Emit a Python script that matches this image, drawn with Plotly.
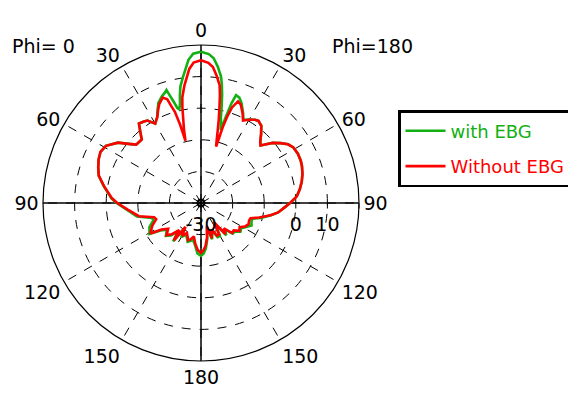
import plotly.graph_objects as go

# Angles measured clockwise from the top (0..180 = right half "Phi=180", 180..360 = left half "Phi=0")
theta_deg = [0, 3, 5, 7, 9, 10, 11, 12, 13, 14, 15, 16, 17, 18, 20, 22, 25, 27, 30, 33, 35, 38, 41, 44, 46, 48,
             50, 53, 56, 59, 63, 67, 70, 74, 78, 82, 86, 90, 93, 97, 100, 104, 107, 110, 114, 118, 122, 126,
             130, 134, 138, 142, 146, 150, 154, 158, 163, 166, 170, 174, 177, 180,
             184, 188, 192, 196, 199, 205, 210, 213, 216, 219, 223, 227, 232, 236, 239, 245, 250, 253, 258,
             265, 270, 273, 280, 285, 289, 293, 297, 301, 306, 310, 312, 317, 320, 322, 325, 327, 330, 333,
             335, 337, 340, 342, 343, 344, 345, 346, 347, 348, 349, 350, 352, 355, 357, 360]

without_ebg = [15.2, 14.4, 13.2, 10.6, 7.7, 4.5, 0.5, -3, -6.5, -9.5, -11.5, -5, -1, 1.8, 4.2, 3.6, 1.2, -0.7,
               0.4, 1.4, 1.7, 1.0, -1.0, -3.0, -3.8, -2.2, -0.4, 1.5, 3.2, 4.1, 4.4, 4.3, 4.0, 3.4, 2.6, 1.6,
               0.4, -1.8, -3.5, -5.4, -7.7, -11.0, -13.6, -13.8, -13.5, -14.2, -15.6, -15.0, -16.5, -16.3,
               -19.2, -17.5, -22.7, -18.5, -18.5, -21.0, -18.3, -22.4, -19.0, -16.3, -15.0, -14.2,
               -15.1, -17.0, -19.2, -18.0, -17.5, -19.5, -18.0, -21.0, -15.4, -19.0, -16.5, -15.1, -16.8,
               -15.0, -11.3, -13.0, -14.9, -14.5, -9.9, -6.6, -3.5, -1.8, 1.2, 3.5, 4.4, 5.2, 5.7, 5.1, 2.5,
               -1.0, -2.4, -2.5, 0.0, 1.9, 1.5, 1.1, -1.0, 0.5, 2.2, 3.9, 5.5, 4.5, 2.0, 0.0, -4.0, -9.7,
               -6.0, -3.0, 0.9, 4.0, 7.6, 12.6, 14.5, 15.2]

with_ebg = [17.9, 17.2, 16.0, 13.5, 10.5, 8.0, 5.0, 1.5, -2.0, -4.0, -6.0, -2.0, 3.0, 5.9, 5.5, 4.2, 1.5, -0.5,
            0.5, 1.4, 1.7, 1.0, -1.0, -3.0, -3.8, -2.2, -0.4, 1.5, 3.2, 4.1, 4.4, 4.3, 4.0, 3.4, 2.6, 1.6,
            0.4, -1.8, -3.5, -5.4, -7.5, -10.5, -13.0, -13.0, -12.5, -13.8, -15.0, -14.6, -16.0, -16.0,
            -18.8, -17.0, -22.0, -18.0, -18.0, -20.5, -18.0, -22.0, -18.5, -15.5, -14.0, -13.3,
            -14.0, -16.5, -18.0, -17.5, -17.0, -19.0, -17.5, -20.5, -15.0, -18.5, -16.0, -14.8, -16.3,
            -14.5, -11.0, -12.0, -14.0, -13.8, -9.3, -6.3, -3.3, -1.6, 1.3, 3.5, 4.4, 5.2, 5.7, 5.1, 2.5,
            -1.0, -2.4, -2.5, 0.0, 1.9, 1.5, 1.1, -1.0, 0.5, 2.5, 4.5, 6.0, 6.8, 7.4, 5.0, 3.0, 1.0,
            0.5, 2.0, 5.0, 7.5, 10.5, 15.5, 17.3, 17.9]

r_min, r_max = -30, 20
radial_ticks = [-30, -20, -10, 0, 10, 20]
radial_labels = ["-30", "", "", "0", "10", ""]
angle_ticks = [0, 30, 60, 90, 120, 150, 180, 210, 240, 270, 300, 330]
angle_labels = ["0", "30", "60", "90", "120", "150", "180", "150", "120", "90", "60", "30"]

FONT = "DejaVu Sans, sans-serif"

fig = go.Figure()

# solid cross through the centre (axis lines)
fig.add_trace(go.Scatterpolar(
    r=[r_max, r_max, None, r_max, r_max], theta=[0, 180, None, 90, 270],
    mode="lines", line=dict(color="black", width=1.5), showlegend=False, hoverinfo="skip"))

fig.add_trace(go.Scatterpolar(
    r=with_ebg, theta=theta_deg, mode="lines", name="<span style='color:#12b012'>with EBG</span>",
    legendgroup="a", line=dict(color="#12b012", width=2.6)))
fig.add_trace(go.Scatterpolar(
    r=without_ebg, theta=theta_deg, mode="lines", name="<span style='color:#ff0000'>Without EBG</span>",
    legendgroup="b", line=dict(color="#ff0000", width=2.6)))

# centre marker
fig.add_trace(go.Scatterpolar(
    r=[r_min], theta=[0], mode="markers", showlegend=False, hoverinfo="skip",
    marker=dict(symbol="circle-open", size=7, color="black", line=dict(width=2))))

# The page body has an 8px margin, so the figure is made 8px smaller and positions are offset.
OFF = 8
W, H = 576 - OFF, 399 - OFF
cx, cy, R = 201 - OFF, 203 - OFF, 158


def px(x):
    return (x - OFF) / W


def py(y):
    return 1 - (y - OFF) / H


fig.update_layout(
    width=W, height=H,
    margin=dict(l=0, r=0, t=0, b=0),
    paper_bgcolor="white",
    font=dict(family=FONT, size=19, color="black"),
    polar=dict(
        domain=dict(x=[(cx - R) / W, (cx + R) / W], y=[(H - cy - R) / H, (H - cy + R) / H]),
        bgcolor="white",
        angularaxis=dict(
            rotation=90, direction="clockwise",
            tickmode="array", tickvals=angle_ticks, ticktext=angle_labels,
            showline=True, linecolor="black", linewidth=1.2,
            showgrid=True, gridcolor="black", gridwidth=1, griddash="dash",
            ticks="", tickfont=dict(size=19, family=FONT)),
        radialaxis=dict(
            range=[r_min, r_max], angle=0, side="clockwise",
            tickmode="array", tickvals=radial_ticks, ticktext=radial_labels,
            showline=False, showgrid=True, gridcolor="black", gridwidth=1, griddash="dash",
            ticks="outside", ticklen=5, tickcolor="black",
            tickfont=dict(size=19, family=FONT), tickangle=0)),
    legend=dict(
        x=px(398), y=py(110), xanchor="left", yanchor="top",
        bordercolor="black", borderwidth=2.5, bgcolor="white",
        font=dict(size=18, family=FONT), itemwidth=40, tracegroupgap=9),
    annotations=[
        dict(text="Phi= 0", x=px(10), y=py(46), xref="paper", yref="paper",
             xanchor="left", yanchor="middle", showarrow=False, font=dict(size=19)),
        dict(text="Phi=180", x=px(330), y=py(46), xref="paper", yref="paper",
             xanchor="left", yanchor="middle", showarrow=False, font=dict(size=19)),
    ],
)

fig.write_html("out.html")
